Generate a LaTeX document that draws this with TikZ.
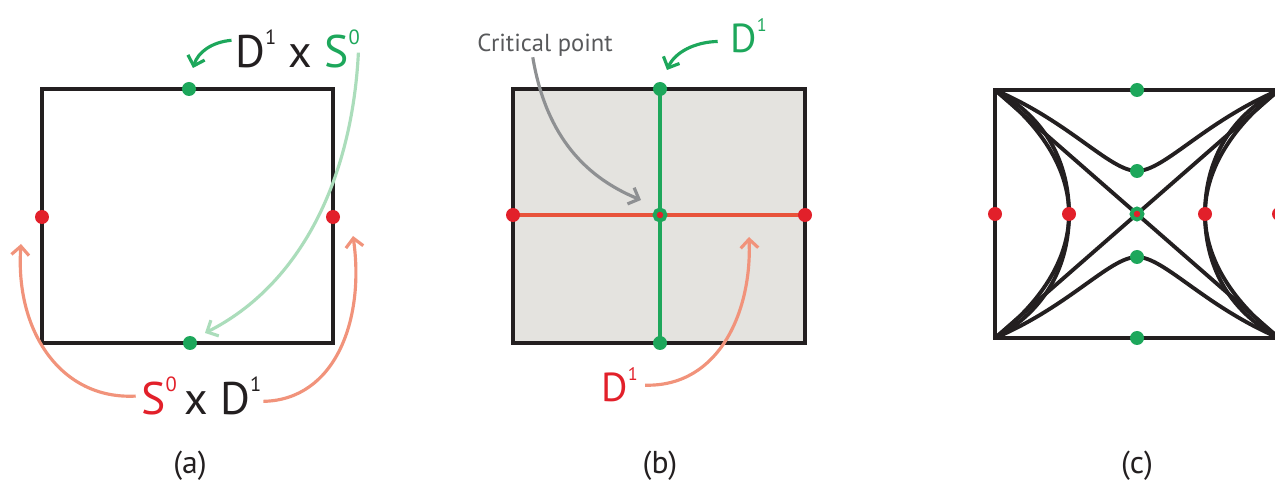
\documentclass[tikz,border=0pt]{standalone}
\usepackage{fontspec}
\setmainfont{PT Sans}
\usepackage{xcolor}
\definecolor{inkBlack}   {HTML}{231F20}
\definecolor{dotGreen}   {HTML}{1DA75B}
\definecolor{dotRed}     {HTML}{E2202A}
\definecolor{lineRed}    {HTML}{E8533B}
\definecolor{arrowSalmon}{HTML}{F1937B}
\definecolor{arrowMint}  {HTML}{ABDDBB}
\definecolor{arrowGrey}  {HTML}{8E9092}
\definecolor{textGrey}   {HTML}{58595B}
\definecolor{cellBack}   {HTML}{E4E3DF}
\usetikzlibrary{arrows.meta}
\pgfdeclarelayer{bg}
\pgfsetlayers{bg,main}
\tikzset{
    gdot/.style={circle, fill=dotGreen, minimum size=0.28cm, inner sep=0pt},
    rdot/.style={circle, fill=dotRed, minimum size=0.28cm, inner sep=0pt},
    crit/.style={circle, fill=dotRed, draw=dotGreen, line width=2.2pt,
                 minimum size=0.22cm, inner sep=0pt},
    frame/.style={draw=inkBlack, line width=2.3pt},
    level/.style={draw=inkBlack, line width=2.2pt},
    hint/.style={-{Straight Barb[length=5pt, width=10pt]}, line width=1.8pt},
    biglbl/.style={inner sep=0pt, anchor=base west, text=inkBlack,
                   font=\fontsize{26}{28}\selectfont},
    midlbl/.style={biglbl, font=\fontsize{23}{25}\selectfont},
    caplbl/.style={inner sep=0pt, text=inkBlack, font=\fontsize{18}{20}\selectfont},
}
\newcommand{\supnum}[1]{\raisebox{0.52em}{\scalebox{0.45}{#1}}}

\begin{document}
\begin{tikzpicture}[x=0.02cm, y=-0.02cm]
\useasboundingbox (0,0) rectangle (1275,489);
% (a) the square and its two pairs of boundary pieces
\draw[frame] (42,89) rectangle (333,343);
\node[gdot] (atop) at (189,89) {};
\node[gdot] (abot) at (190,343) {};
\node[rdot] (aleft) at (42,217) {};
\node[rdot] (aright) at (333,217) {};
\node[biglbl] (lblDS) at (235,68) {D\supnum{1} x \textcolor{dotGreen}{S\supnum{0}}};
\node[biglbl] (lblSD) at (141,415) {\textcolor{dotRed}{S\supnum{0}}\,x D\supnum{1}};
\coordinate (tipA1) at (193,68);
\coordinate (tipA2) at (205,333);
\coordinate (tipA3) at (21,244);
\coordinate (tipA4) at (353,236);
\draw[hint, dotGreen] ([xshift=-2pt, yshift=5pt]lblDS.west) .. controls (212,42) and (198,52) .. (tipA1);
\draw[hint, arrowMint] ([xshift=-1pt, yshift=-2pt]lblDS.east) .. controls (352,180) and (300,285) .. (tipA2);
\draw[hint, arrowSalmon] ([xshift=-3pt]lblSD.west) .. controls (60,400) and (15,330) .. (tipA3);
\draw[hint, arrowSalmon] ([xshift=1pt, yshift=-3pt]lblSD.east) .. controls (335,400) and (365,320) .. (tipA4);
\node[caplbl] (capA) at (190,466) {(a)};
% (b) the cell with its two discs crossing at the critical point
\node[gdot] (btop) at (660,89) {};
\node[gdot] (bbot) at (660,343) {};
\node[rdot] (bleft) at (513,215) {};
\node[rdot] (bright) at (805,215) {};
\node[crit] (bcrit) at (660,215) {};
\begin{pgfonlayer}{bg}
\draw[frame, fill=cellBack] (513,89) rectangle (805,343);
\draw[dotGreen, line width=1.9pt] (btop.center) -- (bbot.center);
\draw[lineRed, line width=1.9pt] (bleft.center) -- (bright.center);
\end{pgfonlayer}
\node[biglbl, text=textGrey, font=\fontsize{14}{16}\selectfont] (lblCrit) at (477,52) {Critical point};
\node[midlbl, text=dotGreen] (lblGD) at (730,53) {D\supnum{1}};
\node[midlbl, text=dotRed] (lblRD) at (601,402) {D\supnum{1}};
\coordinate (tipB1) at (667,70);
\coordinate (tipB2) at (641,200);
\coordinate (tipB3) at (749,237);
\draw[hint, dotGreen] ([xshift=-7pt, yshift=-3pt]lblGD.west) .. controls (695,42) and (675,52) .. (tipB1);
\draw[hint, arrowGrey] ([xshift=-7pt]lblCrit.south) .. controls (545,130) and (580,175) .. (tipB2);
\draw[hint, arrowSalmon] ([xshift=4pt]lblRD.east) .. controls (720,387) and (752,310) .. (tipB3);
\node[caplbl] (capB) at (660,466) {(b)};
% (c) level sets pinched into the corners
\coordinate (ctl) at (995,90);
\coordinate (ctr) at (1279,90);
\coordinate (cbl) at (995,338);
\coordinate (cbr) at (1279,338);
\node[gdot] (ctop) at (1137,90) {};
\node[gdot] (cupper) at (1137,171) {};
\node[gdot] (clower) at (1137,257) {};
\node[gdot] (cbot) at (1137,338) {};
\node[rdot] (cleft) at (995,214) {};
\node[rdot] (cinl) at (1069,214) {};
\node[rdot] (cinr) at (1205,214) {};
\node[rdot] (cright) at (1279,214) {};
\node[crit] (ccrit) at (1137,214) {};
\begin{pgfonlayer}{bg}
\draw[frame] (ctl) rectangle (cbr);
\draw[level] (ctl) -- (cbr);
\draw[level] (cbl) -- (ctr);
\draw[level] (ctl) .. controls (1070,122) and (1110,171) .. (cupper.center)
                   .. controls (1164,171) and (1204,122) .. (ctr);
\draw[level] (cbl) .. controls (1070,306) and (1110,257) .. (clower.center)
                   .. controls (1164,257) and (1204,306) .. (cbr);
\draw[level] (ctl) .. controls (1040,125) and (1069,168) .. (cinl.center)
                   .. controls (1069,260) and (1040,303) .. (cbl);
\draw[level] (ctl) .. controls (1047,118) and (1069,164) .. (cinl.center)
                   .. controls (1069,264) and (1047,310) .. (cbl);
\draw[level] (ctr) .. controls (1234,125) and (1205,168) .. (cinr.center)
                   .. controls (1205,260) and (1234,303) .. (cbr);
\draw[level] (ctr) .. controls (1227,118) and (1205,164) .. (cinr.center)
                   .. controls (1205,264) and (1227,310) .. (cbr);
\end{pgfonlayer}
\node[caplbl] (capC) at (1137,466) {(c)};
\end{tikzpicture}
\end{document}
